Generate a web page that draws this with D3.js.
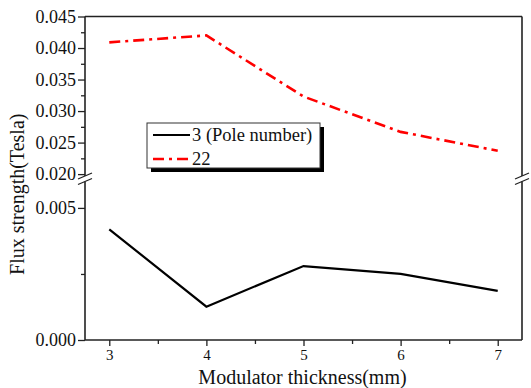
<!DOCTYPE html>
<html>
<head>
<meta charset="utf-8">
<script src="https://cdn.jsdelivr.net/npm/d3@7"></script>
<style>
  body { margin: 0; background: #fff; }
  svg text { font-family: "Liberation Serif", "Times New Roman", "DejaVu Serif", serif !important; fill: #111; }
</style>
</head>
<body>
<svg id="chart" width="531" height="388"></svg>
<script>
// data
const thickness = [3, 4, 5, 6, 7];
const pole3 = [0.00419, 0.00126, 0.0028, 0.0025, 0.00186];
const pole22 = [0.0409, 0.042, 0.0323, 0.0267, 0.0237];
const seriesNames = ["3 (Pole number)", "22"];
const upperTicks = [0.020, 0.025, 0.030, 0.035, 0.040, 0.045];
const lowerTicks = [0.000, 0.005];

const svg = d3.select("#chart");
const plotL = 85, plotR = 522, plotT = 16.5, plotB = 340;
const breakTop = 176, breakBottom = 181.5;

const x = d3.scaleLinear().domain([2.75, 7.25]).range([plotL, plotR]);
// two y segments with a break between them
const yUp = d3.scaleLinear().domain([0.0197, 0.045]).range([breakTop, plotT]);
const yLow = d3.scaleLinear().domain([0, 0.006]).range([plotB, breakBottom]);

// x axis
const xAxis = svg.append("g").attr("transform", `translate(0,${plotB})`)
  .call(d3.axisBottom(x).tickValues(thickness).tickFormat(d3.format("d")).tickSize(6).tickPadding(3));
xAxis.selectAll("text").style("font-size", "15px");
svg.append("g").attr("transform", `translate(0,${plotB})`)
  .call(d3.axisBottom(x).tickValues([3.5, 4.5, 5.5, 6.5]).tickFormat("").tickSize(4));

// y axes (upper and lower parts)
const fmt = d3.format(".3f");
const yu = svg.append("g").attr("transform", `translate(${plotL},0)`)
  .call(d3.axisLeft(yUp).tickValues(upperTicks).tickFormat(fmt).tickSize(7).tickPadding(2));
svg.append("g").attr("transform", `translate(${plotL},0)`)
  .call(d3.axisLeft(yUp).tickValues([0.0225, 0.0275, 0.0325, 0.0375, 0.0425]).tickFormat("").tickSize(4));
const yl = svg.append("g").attr("transform", `translate(${plotL},0)`)
  .call(d3.axisLeft(yLow).tickValues(lowerTicks).tickFormat(fmt).tickSize(7).tickPadding(2));
svg.append("g").attr("transform", `translate(${plotL},0)`)
  .call(d3.axisLeft(yLow).tickValues([0.0025]).tickFormat("").tickSize(4));

svg.selectAll(".domain").remove();
svg.selectAll("g").attr("font-family", null);
svg.selectAll(".tick line").attr("stroke", "#222").attr("stroke-width", 1.3);
[yu, yl].forEach(g => g.selectAll("text").style("font-size", "18px"));

// frame
const frame = svg.append("g").attr("fill", "none").attr("stroke", "#222").attr("stroke-width", 1.6);
frame.append("line").attr("x1", plotL).attr("x2", plotR).attr("y1", plotT).attr("y2", plotT);
frame.append("line").attr("x1", plotL).attr("x2", plotR).attr("y1", plotB).attr("y2", plotB);
[plotL, plotR].forEach(xx => {
  frame.append("line").attr("x1", xx).attr("x2", xx).attr("y1", plotT).attr("y2", breakTop);
  frame.append("line").attr("x1", xx).attr("x2", xx).attr("y1", breakBottom).attr("y2", plotB);
  // break marks
  [breakTop, breakBottom].forEach(yy => {
    frame.append("line").attr("x1", xx - 7).attr("x2", xx + 7)
      .attr("y1", yy + 3).attr("y2", yy - 3).attr("stroke-width", 1.3);
  });
});

// series
const line22 = d3.line().x((d, i) => x(thickness[i])).y(d => yUp(d));
const line3 = d3.line().x((d, i) => x(thickness[i])).y(d => yLow(d));

svg.append("path").datum(pole22).attr("d", line22)
  .attr("fill", "none").attr("stroke", "#f00").attr("stroke-width", 2.6)
  .attr("stroke-dasharray", "11,5,3,5");
svg.append("path").datum(pole3).attr("d", line3)
  .attr("fill", "none").attr("stroke", "#000").attr("stroke-width", 2.2);

// axis titles
svg.append("text").attr("x", (plotL + plotR) / 2 - 1).attr("y", 384)
  .attr("text-anchor", "middle").style("font-size", "20px")
  .text("Modulator thickness(mm)");
svg.append("text").attr("transform", `translate(24,${(plotT + plotB) / 2 + 16}) rotate(-90)`)
  .attr("text-anchor", "middle").style("font-size", "20px")
  .text("Flux strength(Tesla)");

// legend
const lg = svg.append("g").attr("transform", "translate(147,123)");
lg.append("rect").attr("x", 4).attr("y", 4).attr("width", 173).attr("height", 45).attr("fill", "#000");
lg.append("rect").attr("width", 173).attr("height", 45).attr("fill", "#fff").attr("stroke", "#333").attr("stroke-width", 1);
const styles = [{ c: "#000", w: 2.2, dash: null }, { c: "#f00", w: 2.6, dash: "11,5,3,5" }];
seriesNames.forEach((name, i) => {
  const yy = 12 + i * 24;
  lg.append("line").attr("x1", 6).attr("x2", 43).attr("y1", yy).attr("y2", yy)
    .attr("stroke", styles[i].c).attr("stroke-width", styles[i].w)
    .attr("stroke-dasharray", styles[i].dash);
  lg.append("text").attr("x", 45).attr("y", yy + 6).style("font-size", "18.5px").text(name);
});
</script>
</body>
</html>
